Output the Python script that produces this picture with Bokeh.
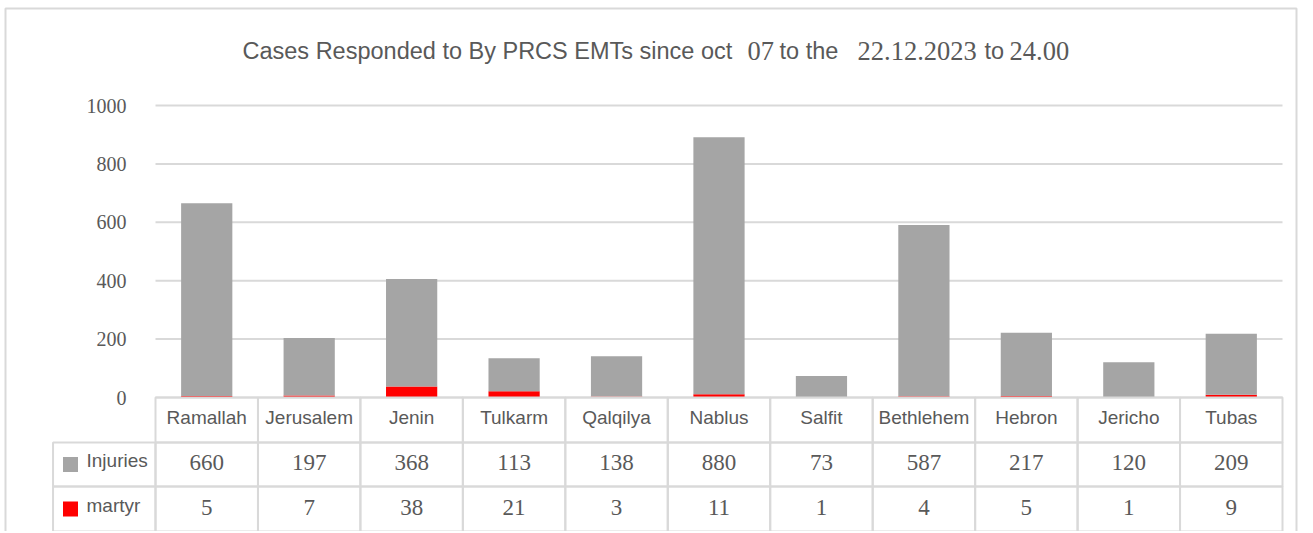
from bokeh.plotting import figure
from bokeh.models import Range1d, ColumnDataSource
from bokeh.core.properties import value
from bokeh.embed import file_html
from bokeh.resources import INLINE

categories = ["Ramallah", "Jerusalem", "Jenin", "Tulkarm", "Qalqilya", "Nablus",
              "Salfit", "Bethlehem", "Hebron", "Jericho", "Tubas"]
injuries = [660, 197, 368, 113, 138, 880, 73, 587, 217, 120, 209]
martyr = [5, 7, 38, 21, 3, 11, 1, 4, 5, 1, 9]
series_names = ["Injuries", "martyr"]
series_colors = ["#a5a5a5", "#ff0000"]
y_ticks = [0, 200, 400, 600, 800, 1000]
title_parts = ["Cases Responded to By PRCS EMTs since oct ", "07", " to the ",
               "22.12.2023", " to ", "24.00"]
title_serif = [False, True, False, True, False, True]

SANS = "Liberation Sans"
SERIF = "Liberation Serif"
TXT = "#595959"
GRID = "#d9d9d9"

# ---- layout (pixels on the page) ----
W, H = 1305, 531
PL, PR = 155, 1282        # plot area left / right
PT, PB = 105, 397         # value 1000 / value 0
n = len(categories)
cw = (PR - PL) / n        # pixels per category
ppu = (PB - PT) / y_ticks[-1]   # pixels per value unit


def X(px):
    return (px - PL) / cw - 0.5


def Y(py):
    return (PB - py) / ppu


p = figure(width=W, height=H, x_range=Range1d(X(0), X(W)), y_range=Range1d(Y(H), Y(0)),
           output_backend="svg", toolbar_location=None, min_border=0)
p.xaxis.visible = False
p.yaxis.visible = False
p.grid.visible = False
p.outline_line_color = None

# outer border
p.quad(left=X(5), right=X(1296), top=Y(8), bottom=Y(H + 20), fill_color=None,
       line_color=GRID, line_width=2)

# gridlines + y tick labels
p.segment(x0=X(PL), x1=X(PR), y0=y_ticks, y1=y_ticks, line_color=GRID, line_width=2)
p.text(x=[X(PL)] * len(y_ticks), y=y_ticks, text=[str(t) for t in y_ticks], x_offset=-29,
       text_align="right", text_baseline="middle", text_font=value(SERIF),
       text_font_size="20px", text_color=TXT)

# stacked bars
xs = list(range(n))
src = ColumnDataSource(dict(x=xs, cat=categories, Injuries=injuries, martyr=martyr))
p.vbar_stack(["martyr", "Injuries"], x="x", width=0.5,
             color=[series_colors[1], series_colors[0]], line_color=None, source=src)

# title
title_x = [242, 747, 779, 857, 984, 1009]
for t, serif, px in zip(title_parts, title_serif, title_x):
    p.text(x=[X(px)], y=[Y(50)], text=[t], text_align="left", text_baseline="middle",
           text_font=value(SERIF if serif else SANS),
           text_font_size="26.5px" if serif else "23.5px", text_color=TXT)

# data table
row_px = [(397, 442), (442, 486), (486, 531)]
row_c = [Y((a + b) / 2) for a, b in row_px]
row_h = [(b - a) / ppu for a, b in row_px]
p.rect(x=xs, y=[row_c[0]] * n, width=1, height=row_h[0], fill_color=None,
       line_color=GRID, line_width=2)
for r in (1, 2):
    p.rect(x=[-1] + xs, y=[row_c[r]] * (n + 1), width=1, height=row_h[r], fill_color=None,
           line_color=GRID, line_width=2)

p.text(x=xs, y=[row_c[0]] * n, text=categories, y_offset=-3, text_align="center",
       text_baseline="middle", text_font=value(SANS), text_font_size="19px", text_color=TXT)
p.text(x=xs, y=[row_c[1]] * n, text=[str(v) for v in injuries], y_offset=-2,
       text_align="center", text_baseline="middle", text_font=value(SERIF),
       text_font_size="23px", text_color=TXT)
p.text(x=xs, y=[row_c[2]] * n, text=[str(v) for v in martyr], y_offset=-2,
       text_align="center", text_baseline="middle", text_font=value(SERIF),
       text_font_size="23px", text_color=TXT)

leg = ColumnDataSource(dict(sx=[X(70)] * 2, tx=[X(86)] * 2, y=row_c[1:], name=series_names,
                            color=series_colors))
p.scatter(x="sx", y="y", marker="square", size=15, color="color", line_color=None, source=leg)
p.text(x="tx", y="y", text="name", y_offset=-4, text_align="left", text_baseline="middle",
       text_font=value(SANS), text_font_size="19px", text_color=TXT, source=leg)

open("out.html", "w").write(file_html(p, INLINE))
